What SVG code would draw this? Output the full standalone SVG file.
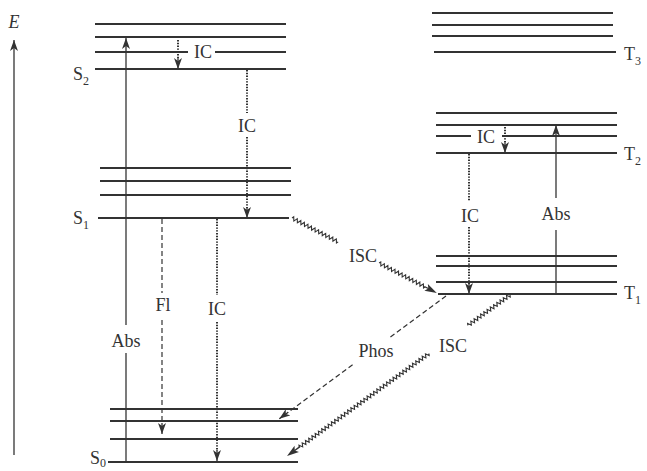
<svg xmlns="http://www.w3.org/2000/svg" xmlns:xlink="http://www.w3.org/1999/xlink" width="647" height="471" viewBox="0 0 647 471">
<style>
.lv{stroke:#333;stroke-width:2;fill:none}
.ar{stroke:#333;stroke-width:1.3;fill:none}
.dot{stroke:#333;stroke-width:2;stroke-dasharray:1.4 1.4;fill:none}
.dash{stroke:#333;stroke-width:1.2;stroke-dasharray:5 3;fill:none}
.zz{stroke:#333;stroke-width:1.1;fill:none;stroke-linejoin:miter}
.t{font-family:"Liberation Serif","Times New Roman",serif;font-size:18px;fill:#333}
.sub{font-size:12px}
.head{fill:#333;stroke:none}
</style>
<defs>
<marker id="ah" markerUnits="userSpaceOnUse" markerWidth="12" markerHeight="8" refX="11" refY="4" orient="auto">
<path d="M0,0 L11,4 L0,8 L3,4 Z" fill="#333"/>
</marker>
<path id="zz13" class="zz" d="M0,0 l1,-1.8 2,3.6 1,-1.8 1,-1.8 2,3.6 1,-1.8 1,-1.8 2,3.6 1,-1.8 1,-1.8 2,3.6 1,-1.8 1,-1.8 2,3.6 1,-1.8 1,-1.8 2,3.6 1,-1.8 1,-1.8 2,3.6 1,-1.8 1,-1.8 2,3.6 1,-1.8 1,-1.8 2,3.6 1,-1.8 1,-1.8 2,3.6 1,-1.8 1,-1.8 2,3.6 1,-1.8 1,-1.8 2,3.6 1,-1.8 1,-1.8 2,3.6 1,-1.8"/>
<path id="zz20" class="zz" d="M0,0 l1,-1.8 2,3.6 1,-1.8 1,-1.8 2,3.6 1,-1.8 1,-1.8 2,3.6 1,-1.8 1,-1.8 2,3.6 1,-1.8 1,-1.8 2,3.6 1,-1.8 1,-1.8 2,3.6 1,-1.8 1,-1.8 2,3.6 1,-1.8 1,-1.8 2,3.6 1,-1.8 1,-1.8 2,3.6 1,-1.8 1,-1.8 2,3.6 1,-1.8 1,-1.8 2,3.6 1,-1.8 1,-1.8 2,3.6 1,-1.8 1,-1.8 2,3.6 1,-1.8 1,-1.8 2,3.6 1,-1.8 1,-1.8 2,3.6 1,-1.8 1,-1.8 2,3.6 1,-1.8 1,-1.8 2,3.6 1,-1.8 1,-1.8 2,3.6 1,-1.8 1,-1.8 2,3.6 1,-1.8 1,-1.8 2,3.6 1,-1.8"/>
</defs>
<rect width="647" height="471" fill="#fff"/>

<g id="axis">
<line class="ar" x1="14" y1="455" x2="14" y2="40" marker-end="url(#ah)"/>
<text class="t" x="14" y="28" text-anchor="middle" font-style="italic" font-size="16">E</text>
</g>

<g id="S2">
<line class="lv" x1="95" y1="24" x2="286" y2="24"/>
<line class="lv" x1="95" y1="37" x2="286" y2="37"/>
<line class="lv" x1="95" y1="52" x2="188" y2="52"/>
<line class="lv" x1="215" y1="52" x2="286" y2="52"/>
<line class="lv" x1="95" y1="69" x2="286" y2="69"/>
<text class="t" x="73" y="80">S<tspan class="sub" dy="5">2</tspan></text>
</g>

<g id="S1">
<line class="lv" x1="100" y1="168" x2="291" y2="168"/>
<line class="lv" x1="100" y1="181" x2="291" y2="181"/>
<line class="lv" x1="100" y1="195" x2="291" y2="195"/>
<line class="lv" x1="98" y1="218" x2="289" y2="218"/>
<text class="t" x="73" y="224">S<tspan class="sub" dy="5">1</tspan></text>
</g>

<g id="S0">
<line class="lv" x1="110" y1="409" x2="298" y2="409"/>
<line class="lv" x1="110" y1="421" x2="298" y2="421"/>
<line class="lv" x1="110" y1="439" x2="298" y2="439"/>
<line class="lv" x1="108" y1="462" x2="298" y2="462"/>
<text class="t" x="90" y="464">S<tspan class="sub" dy="3">0</tspan></text>
</g>

<g id="T3">
<line class="lv" x1="432" y1="13" x2="613" y2="13"/>
<line class="lv" x1="432" y1="25" x2="613" y2="25"/>
<line class="lv" x1="432" y1="36" x2="613" y2="36"/>
<line class="lv" x1="434" y1="52" x2="616" y2="52"/>
<text class="t" x="624" y="60">T<tspan class="sub" dy="5">3</tspan></text>
</g>

<g id="T2">
<line class="lv" x1="436" y1="113" x2="617" y2="113"/>
<line class="lv" x1="436" y1="125" x2="617" y2="125"/>
<line class="lv" x1="436" y1="136" x2="471" y2="136"/>
<line class="lv" x1="502" y1="136" x2="617" y2="136"/>
<line class="lv" x1="436" y1="153" x2="617" y2="153"/>
<text class="t" x="624" y="160">T<tspan class="sub" dy="5">2</tspan></text>
</g>

<g id="T1">
<line class="lv" x1="436" y1="256" x2="617" y2="256"/>
<line class="lv" x1="436" y1="266" x2="617" y2="266"/>
<line class="lv" x1="436" y1="282" x2="617" y2="282"/>
<line class="lv" x1="438" y1="294" x2="617" y2="294"/>
<text class="t" x="624" y="299">T<tspan class="sub" dy="5">1</tspan></text>
</g>

<g id="connectors">
<!-- Abs left -->
<line class="ar" x1="126" y1="462" x2="126" y2="353"/>
<line class="ar" x1="126" y1="325" x2="126" y2="38" marker-end="url(#ah)"/>
<text class="t" x="126" y="347" text-anchor="middle">Abs</text>
<!-- IC within S2 -->
<line class="dot" x1="178" y1="40" x2="178" y2="58"/>
<line class="ar" x1="178" y1="58" x2="178" y2="69" marker-end="url(#ah)"/>
<text class="t" x="203" y="58" text-anchor="middle">IC</text>
<!-- IC S2 -> S1 -->
<line class="dot" x1="247" y1="70" x2="247" y2="113"/>
<line class="dot" x1="247" y1="137" x2="247" y2="208"/>
<line class="ar" x1="247" y1="207" x2="247" y2="218" marker-end="url(#ah)"/>
<text class="t" x="247" y="132" text-anchor="middle">IC</text>
<!-- Fl -->
<line class="dash" x1="162" y1="219" x2="162" y2="293"/>
<line class="dash" x1="162" y1="320" x2="162" y2="424"/>
<line class="ar" x1="162" y1="423" x2="162" y2="434" marker-end="url(#ah)"/>
<text class="t" x="163" y="311" text-anchor="middle">Fl</text>
<!-- IC S1 -> S0 -->
<line class="dot" x1="217" y1="219" x2="217" y2="295"/>
<line class="dot" x1="217" y1="322" x2="217" y2="451"/>
<line class="ar" x1="217" y1="450" x2="217" y2="461" marker-end="url(#ah)"/>
<text class="t" x="217" y="315" text-anchor="middle">IC</text>
<!-- Right: IC within T2 -->
<line class="dot" x1="505" y1="127" x2="505" y2="142"/>
<line class="ar" x1="505" y1="142" x2="505" y2="153" marker-end="url(#ah)"/>
<text class="t" x="486" y="143" text-anchor="middle">IC</text>
<!-- IC T2 -> T1 -->
<line class="dot" x1="469" y1="154" x2="469" y2="201"/>
<line class="dot" x1="469" y1="227" x2="469" y2="284"/>
<line class="ar" x1="469" y1="283" x2="469" y2="294" marker-end="url(#ah)"/>
<text class="t" x="470" y="222" text-anchor="middle">IC</text>
<!-- Abs right -->
<line class="ar" x1="556" y1="294" x2="556" y2="230"/>
<line class="ar" x1="556" y1="198" x2="556" y2="125" marker-end="url(#ah)"/>
<text class="t" x="556" y="220" text-anchor="middle">Abs</text>
<!-- ISC S1 -> T1 -->
<g transform="translate(292,218) rotate(27.35)">
<use xlink:href="#zz13" href="#zz13" x="0" y="0"/>
<use xlink:href="#zz13" href="#zz13" x="98" y="0"/>
<path class="head" d="M163,0 L151,-3.8 L153.5,0 L151,3.8 Z"/>
<line class="ar" x1="149" y1="0" x2="154" y2="0"/>
</g>
<text class="t" x="363" y="262" text-anchor="middle">ISC</text>
<!-- Phos T1 -> S0 -->
<g transform="translate(446,296) rotate(143.63)">
<line class="dash" x1="0" y1="0" x2="69" y2="0"/>
<line class="dash" x1="116" y1="0" x2="197" y2="0"/>
<line class="ar" x1="196" y1="0" x2="207" y2="0" marker-end="url(#ah)"/>
</g>
<text class="t" x="376" y="357" text-anchor="middle">Phos</text>
<!-- ISC T1 -> S0 -->
<g transform="translate(510,295) rotate(144.17)">
<use xlink:href="#zz13" href="#zz13" x="0" y="0"/>
<use xlink:href="#zz20" href="#zz20" x="100" y="0"/>
<use xlink:href="#zz20" href="#zz20" x="180" y="0"/>
<path class="head" d="M275,0 L263,-3.8 L265.5,0 L263,3.8 Z"/>
<line class="ar" x1="259" y1="0" x2="266" y2="0"/>
</g>
<text class="t" x="453" y="352" text-anchor="middle">ISC</text>
</g>
</svg>
